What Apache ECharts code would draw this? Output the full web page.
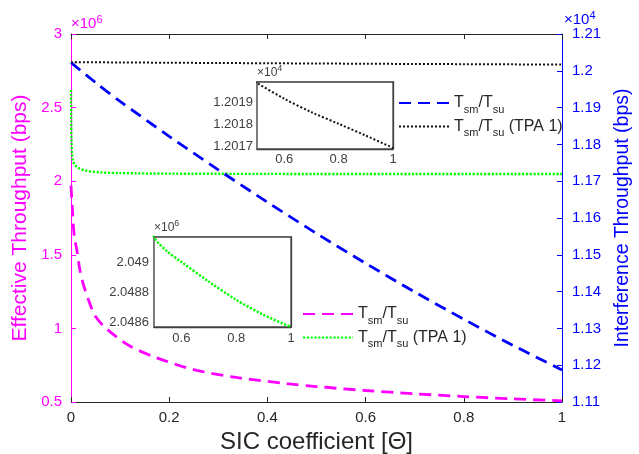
<!DOCTYPE html>
<html><head><meta charset="utf-8">
<script src="https://cdn.jsdelivr.net/npm/echarts@6/dist/echarts.min.js"></script>
<style>html,body{margin:0;padding:0;background:#fff}#c{width:639px;height:454px}</style>
</head><body><div id="c"></div>
<script>
const FONT = '"Liberation Sans", Arial, Helvetica, sans-serif';

// Effective throughput (left axis, bps) — T_sm/T_su
const effTheta = [0, 0.0025, 0.0065, 0.012, 0.018, 0.025, 0.035, 0.05, 0.075, 0.12, 0.175, 0.25, 0.34, 0.44, 0.5, 0.6, 0.7, 0.8, 0.9, 1];
const effTsmTsu = [1970000, 1830000, 1630000, 1530000, 1400000, 1300000, 1200000, 1080000, 990000, 880000, 800000, 720000, 665000, 625000, 605000, 578000, 556000, 537000, 521000, 508000];

// Effective throughput (left axis, bps) — T_sm/T_su (TPA 1)
const effTPATheta = [0, 0.0005, 0.001, 0.002, 0.004, 0.008, 0.015, 0.03, 0.06, 0.1, 0.2, 0.3, 0.4, 0.5, 0.55, 0.6, 0.7, 0.8, 0.9, 1];
const effTsmTsuTPA1 = [2620000, 2400000, 2280000, 2190000, 2140000, 2110000, 2090000, 2072000, 2060000, 2055000, 2051500, 2050300, 2049600, 2049165, 2049067, 2049000, 2048870, 2048750, 2048650, 2048570];

// Interference throughput (right axis, bps) — T_sm/T_su
const intfTheta = [0, 0.05, 0.1, 0.2, 0.3, 0.4, 0.5, 0.6, 0.7, 0.8, 0.9, 1];
const intfTsmTsu = [12022, 11968, 11917, 11822, 11731, 11643, 11558, 11477, 11399, 11325, 11254, 11187];

// Interference throughput (right axis, bps) — T_sm/T_su (TPA 1)
const intfTPATheta = [0, 0.1, 0.2, 0.3, 0.4, 0.5, 0.6, 0.7, 0.8, 0.9, 1];
const intfTsmTsuTPA1 = [12023.5, 12022.7, 12021.9, 12021.2, 12020.5, 12019.85, 12019.15, 12018.55, 12018.03, 12017.5, 12016.95];

// Tick values
const insetXTickLabels = [0.6, 0.8, 1];
const insetXTicks = [0.6, 0.8];
const inset1YTicks = [12017, 12018, 12019];
const inset2YTicks = [2048600, 2048800, 2049000];

const MAGENTA = '#ff00ff', BLUE = '#0000ff', GREEN = '#00ff00', BLACK = '#111111';
const AXC = '#262626', INSC = '#404040';

const zip = (xs, ys) => xs.map((x, i) => [x, ys[i]]);
const trim = (v, d) => String(+v.toFixed(d));

const N_EFF = 'Tsm/Tsu [effective]';
const N_EFF_TPA = 'Tsm/Tsu (TPA 1) [effective]';
const N_INT = 'Tsm/Tsu [interference]';
const N_INT_TPA = 'Tsm/Tsu (TPA 1) [interference]';

const legendFmt = name => {
  const base = '{n|T}{s|sm}{n|/T}{s|su}';
  return name.indexOf('TPA 1') >= 0 ? base + '{n| (TPA 1)}' : base;
};
const legendRich = {
  n: {fontSize: 16, lineHeight: 24, color: AXC, fontFamily: FONT},
  s: {fontSize: 11, lineHeight: 10, verticalAlign: 'bottom', color: AXC, fontFamily: FONT}
};

function tickOnlyX(grid, pos, min, max, interval, custom) {
  const ax = {gridIndex: grid, type: 'value', position: pos, min, max,
    axisLine: {show: true, onZero: false, lineStyle: {color: grid === 0 ? AXC : INSC, width: grid === 0 ? 1 : 1.3}},
    axisTick: {show: true, inside: true, length: grid === 0 ? 5 : 3, lineStyle: {color: grid === 0 ? AXC : INSC}},
    axisLabel: {show: false}, splitLine: {show: false}};
  if (interval) ax.interval = interval;
  if (custom) ax.axisTick.customValues = custom;
  return ax;
}

const lineCommon = {type: 'line', symbol: 'none', showSymbol: false, smooth: 0.3};

const chart = echarts.init(document.getElementById('c'), null, {renderer: 'canvas'});
chart.setOption({
  animation: false,
  backgroundColor: '#fff',
  textStyle: {fontFamily: FONT},
  grid: [
    {left: 71, right: 77, top: 34, bottom: 52, outerBoundsMode: 'none', containLabel: false},
    {left: 257, top: 82, width: 136, height: 67, show: true, backgroundColor: '#fff', borderColor: INSC, borderWidth: 1.3, outerBoundsMode: 'none', z: 5},
    {left: 154, top: 237, width: 137, height: 90, show: true, backgroundColor: '#fff', borderColor: INSC, borderWidth: 1.3, outerBoundsMode: 'none', z: 5}
  ],
  xAxis: [
    {gridIndex: 0, type: 'value', position: 'bottom', min: 0, max: 1, interval: 0.2,
      name: 'SIC coefficient [Θ]', nameLocation: 'middle', nameGap: 28,
      nameTextStyle: {fontSize: 24, color: AXC, fontFamily: FONT},
      axisLine: {show: true, onZero: false, lineStyle: {color: AXC, width: 1}},
      axisTick: {show: true, inside: true, length: 5, lineStyle: {color: AXC}},
      axisLabel: {fontSize: 15, color: AXC, margin: 8, fontFamily: FONT, formatter: v => trim(v, 2)},
      splitLine: {show: false}},
    tickOnlyX(0, 'top', 0, 1, 0.2),
    {gridIndex: 1, type: 'value', position: 'bottom', min: 0.5, max: 1,
      axisLine: {show: true, onZero: false, lineStyle: {color: INSC, width: 1.3}},
      axisTick: {show: true, inside: true, length: 3, customValues: insetXTicks, lineStyle: {color: INSC}},
      axisLabel: {fontSize: 13, color: INSC, margin: 4, fontFamily: FONT, customValues: insetXTickLabels, formatter: v => trim(v, 2)},
      splitLine: {show: false}},
    tickOnlyX(1, 'top', 0.5, 1, null, insetXTicks),
    {gridIndex: 2, type: 'value', position: 'bottom', min: 0.5, max: 1,
      axisLine: {show: true, onZero: false, lineStyle: {color: INSC, width: 1.3}},
      axisTick: {show: true, inside: true, length: 3, customValues: insetXTicks, lineStyle: {color: INSC}},
      axisLabel: {fontSize: 13, color: INSC, margin: 5, fontFamily: FONT, customValues: insetXTickLabels, formatter: v => trim(v, 2)},
      splitLine: {show: false}},
    tickOnlyX(2, 'top', 0.5, 1, null, insetXTicks)
  ],
  yAxis: [
    {gridIndex: 0, type: 'value', position: 'left', min: 500000, max: 3000000, interval: 500000,
      name: 'Effective Throughput (bps)', nameLocation: 'middle', nameGap: 38,
      nameTextStyle: {fontSize: 21, color: MAGENTA, fontFamily: FONT},
      axisLine: {show: true, onZero: false, lineStyle: {color: MAGENTA, width: 1}},
      axisTick: {show: true, inside: true, length: 5, lineStyle: {color: MAGENTA}},
      axisLabel: {fontSize: 15, color: MAGENTA, margin: 9, fontFamily: FONT, formatter: v => trim(v / 1e6, 3)},
      splitLine: {show: false}},
    {gridIndex: 0, type: 'value', position: 'right', min: 11100, max: 12100, interval: 100,
      name: 'Interference Throughput (bps)', nameLocation: 'middle', nameGap: 51,
      nameTextStyle: {fontSize: 19.5, color: BLUE, fontFamily: FONT},
      axisLine: {show: true, onZero: false, lineStyle: {color: BLUE, width: 1}},
      axisTick: {show: true, inside: true, length: 5, lineStyle: {color: BLUE}},
      axisLabel: {fontSize: 15, color: BLUE, margin: 10, fontFamily: FONT, formatter: v => trim(v / 1e4, 4)},
      splitLine: {show: false}},
    {gridIndex: 1, type: 'value', position: 'left', min: 12016.9, max: 12019.9,
      axisLine: {show: true, onZero: false, lineStyle: {color: INSC, width: 1.3}},
      axisTick: {show: true, inside: true, length: 3, customValues: inset1YTicks, lineStyle: {color: INSC}},
      axisLabel: {fontSize: 13, color: INSC, margin: 4, fontFamily: FONT, customValues: inset1YTicks, formatter: v => (v / 1e4).toFixed(4)},
      splitLine: {show: false}},
    {gridIndex: 1, type: 'value', position: 'right', min: 12016.9, max: 12019.9,
      axisLine: {show: true, onZero: false, lineStyle: {color: INSC, width: 1.3}},
      axisTick: {show: true, inside: true, length: 3, customValues: inset1YTicks, lineStyle: {color: INSC}},
      axisLabel: {show: false}, splitLine: {show: false}},
    {gridIndex: 2, type: 'value', position: 'left', min: 2048570, max: 2049165,
      axisLine: {show: true, onZero: false, lineStyle: {color: INSC, width: 1.3}},
      axisTick: {show: true, inside: true, length: 3, customValues: inset2YTicks, lineStyle: {color: INSC}},
      axisLabel: {fontSize: 13, color: INSC, margin: 5, fontFamily: FONT, customValues: inset2YTicks, formatter: v => trim(v / 1e6, 5)},
      splitLine: {show: false}},
    {gridIndex: 2, type: 'value', position: 'right', min: 2048570, max: 2049165,
      axisLine: {show: true, onZero: false, lineStyle: {color: INSC, width: 1.3}},
      axisTick: {show: true, inside: true, length: 3, customValues: inset2YTicks, lineStyle: {color: INSC}},
      axisLabel: {show: false}, splitLine: {show: false}}
  ],
  legend: [
    {data: [N_INT, N_INT_TPA], orient: 'vertical', left: 398, top: 95, padding: 0, itemWidth: 50, itemHeight: 14, itemGap: 3.5,
      selectedMode: false, formatter: legendFmt, itemStyle: {opacity: 0},
      textStyle: {rich: legendRich, color: AXC, fontFamily: FONT}},
    {data: [N_EFF, N_EFF_TPA], orient: 'vertical', left: 302, top: 306, padding: 0, itemWidth: 50, itemHeight: 14, itemGap: 3.5,
      selectedMode: false, formatter: legendFmt, itemStyle: {opacity: 0},
      textStyle: {rich: legendRich, color: AXC, fontFamily: FONT}}
  ],
  graphic: [
    {type: 'text', left: 71, top: 14, silent: true, style: {text: '{a|×10}{p|6}', fill: MAGENTA,
      rich: {a: {fontSize: 15, lineHeight: 20, fill: MAGENTA, fontFamily: FONT}, p: {fontSize: 11, lineHeight: 11, verticalAlign: 'top', fill: MAGENTA, fontFamily: FONT}}}},
    {type: 'text', left: 564, top: 10, silent: true, style: {text: '{a|×10}{p|4}', fill: BLUE,
      rich: {a: {fontSize: 15, lineHeight: 20, fill: BLUE, fontFamily: FONT}, p: {fontSize: 11, lineHeight: 11, verticalAlign: 'top', fill: BLUE, fontFamily: FONT}}}},
    {type: 'text', left: 257, top: 64, silent: true, style: {text: '{a|×10}{p|4}', fill: INSC,
      rich: {a: {fontSize: 12, lineHeight: 17, fill: INSC, fontFamily: FONT}, p: {fontSize: 9, lineHeight: 9, verticalAlign: 'top', fill: INSC, fontFamily: FONT}}}},
    {type: 'text', left: 154, top: 219, silent: true, style: {text: '{a|×10}{p|6}', fill: INSC,
      rich: {a: {fontSize: 12, lineHeight: 17, fill: INSC, fontFamily: FONT}, p: {fontSize: 9, lineHeight: 9, verticalAlign: 'top', fill: INSC, fontFamily: FONT}}}}
  ],
  series: [
    Object.assign({}, lineCommon, {name: N_EFF, xAxisIndex: 0, yAxisIndex: 0, data: zip(effTheta, effTsmTsu), z: 3,
      itemStyle: {color: MAGENTA}, lineStyle: {color: MAGENTA, width: 2.8, type: [12, 7], cap: 'butt'}}),
    Object.assign({}, lineCommon, {name: N_EFF_TPA, xAxisIndex: 0, yAxisIndex: 0, data: zip(effTPATheta, effTsmTsuTPA1), z: 3,
      itemStyle: {color: GREEN}, lineStyle: {color: GREEN, width: 2.4, type: [2.2, 1.6], cap: 'butt'}}),
    Object.assign({}, lineCommon, {name: N_INT, xAxisIndex: 0, yAxisIndex: 1, data: zip(intfTheta, intfTsmTsu), z: 3,
      itemStyle: {color: BLUE}, lineStyle: {color: BLUE, width: 2.8, type: [12, 7], cap: 'butt'}}),
    Object.assign({}, lineCommon, {name: N_INT_TPA, xAxisIndex: 0, yAxisIndex: 1, data: zip(intfTPATheta, intfTsmTsuTPA1), z: 3,
      itemStyle: {color: BLACK}, lineStyle: {color: BLACK, width: 2, type: [2, 2], cap: 'butt'}}),
    Object.assign({}, lineCommon, {name: 'inset: ' + N_INT_TPA, xAxisIndex: 2, yAxisIndex: 2, data: zip(intfTPATheta, intfTsmTsuTPA1), clip: true, z: 6,
      lineStyle: {color: BLACK, width: 2, type: [2, 2], cap: 'butt'}}),
    Object.assign({}, lineCommon, {name: 'inset: ' + N_EFF_TPA, xAxisIndex: 4, yAxisIndex: 4, data: zip(effTPATheta, effTsmTsuTPA1), clip: true, z: 6,
      lineStyle: {color: GREEN, width: 2.4, type: [2.2, 1.6], cap: 'butt'}})
  ]
});
</script></body></html>
